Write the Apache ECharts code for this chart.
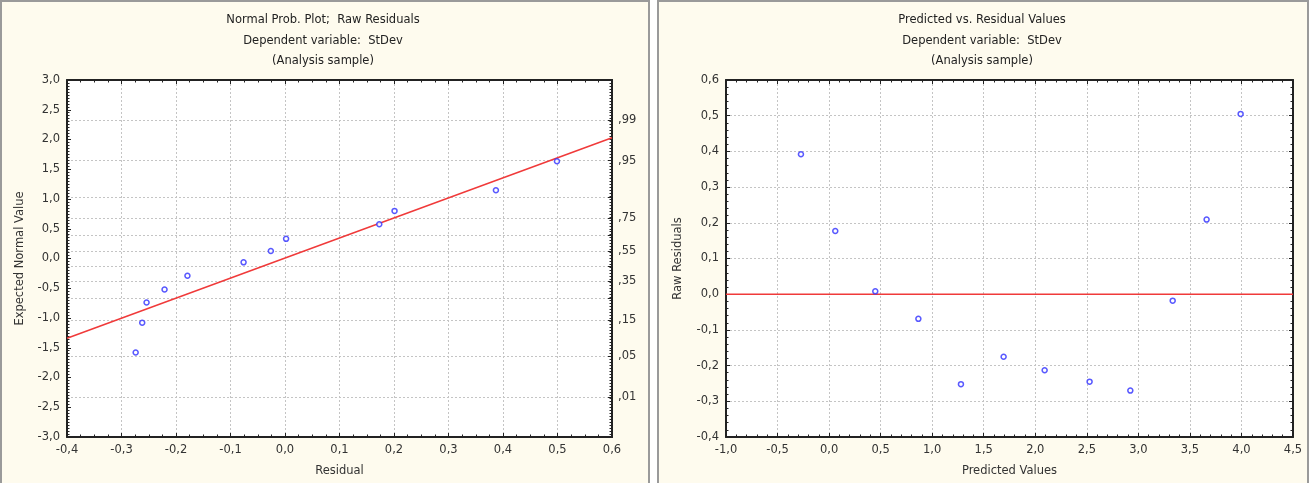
<!DOCTYPE html>
<html>
<head>
<meta charset="utf-8">
<script src="https://cdn.jsdelivr.net/npm/echarts@6/dist/echarts.min.js"></script>
<style>
  body { margin: 0; background: #fff; }
  #wrap { position: relative; width: 1315px; height: 483px; overflow: hidden; }
  .panel { position: absolute; top: 0; height: 500px; background: #fefbee; border: 2px solid #9a9a9a; box-sizing: border-box; }
  #main { position: absolute; left: 0; top: 0; width: 1315px; height: 483px; }
</style>
</head>
<body>
<div id="wrap">
  <div class="panel" style="left:0;width:650px"></div>
  <div class="panel" style="left:657px;width:652px"></div>
  <div id="main"></div>
</div>
<script>
// normal probability plot (left)
const normResidual = [-0.274, -0.262, -0.254, -0.221, -0.179, -0.076, -0.026, 0.002, 0.173, 0.201, 0.387, 0.499];
const normExpected = [-1.58, -1.08, -0.74, -0.52, -0.29, -0.065, 0.126, 0.33, 0.575, 0.80, 1.146, 1.634];
const fitX = [-0.4, 0.6];
const fitY = [-1.34, 2.03];

// probability scale on the right side (label + normal quantile)
const probLabels = [',01', ',05', ',15', ',35', ',55', ',75', ',95', ',99'];
const probZ = [-2.326, -1.645, -1.036, -0.385, 0.126, 0.674, 1.645, 2.326];
const probGridZ = [-2.326, -1.645, -1.036, -0.674, -0.385, -0.126, 0.126, 0.385, 0.674, 1.036, 1.645, 2.326];

// predicted vs residual (right)
const predicted = [-0.273, 0.060, 0.448, 0.866, 1.279, 1.693, 2.091, 2.527, 2.922, 3.333, 3.662, 3.992];
const rawResidual = [0.392, 0.177, 0.008, -0.069, -0.252, -0.175, -0.213, -0.245, -0.270, -0.018, 0.209, 0.505];
const zeroX = [-1.0, 4.5];
const zeroY = [0, 0];

const font = 'DejaVu Sans';
const fs = 11.5;
const fmt = v => (Math.abs(v) < 1e-9 ? 0 : v).toFixed(1).replace('.', ',');
const zip = (a, b) => a.map((v, i) => [v, b[i]]);

const axLine = { show: true, onZero: false, lineStyle: { color: '#222', width: 2 } };
const tick = { show: true, inside: true, length: 4, lineStyle: { color: '#222', width: 1 } };
const minor = n => ({ show: true, splitNumber: n, length: 2.5, lineStyle: { color: '#222', width: 1 } });
const grid = { show: true, lineStyle: { color: '#c4c4c4', type: [2, 2], width: 1 } };
const lbl = { color: '#333', fontSize: fs, fontFamily: font, formatter: fmt };
const nameStyle = { color: '#333', fontSize: fs, fontFamily: font };

function valAxis(o) {
  return Object.assign({
    type: 'value',
    axisLine: axLine,
    axisTick: tick,
    minorTick: minor(5),
    splitLine: { show: false },
    axisLabel: Object.assign({ margin: 7 }, lbl)
  }, o);
}
const hidden = { show: false };

let myChart = echarts.init(document.getElementById('main'));
myChart.setOption({
  animation: false,
  title: [
    {
      text: 'Normal Prob. Plot;  Raw Residuals\nDependent variable:  StDev\n(Analysis sample)',
      left: 323, top: 10, padding: 0, textAlign: 'center',
      textStyle: { fontSize: fs, fontWeight: 'normal', color: '#222', fontFamily: font, lineHeight: 20.5 }
    },
    {
      text: 'Predicted vs. Residual Values\nDependent variable:  StDev\n(Analysis sample)',
      left: 982, top: 10, padding: 0, textAlign: 'center',
      textStyle: { fontSize: fs, fontWeight: 'normal', color: '#222', fontFamily: font, lineHeight: 20.5 }
    }
  ],
  grid: [
    { left: 67, top: 80, width: 545, height: 357, show: true, backgroundColor: '#fff', borderWidth: 0 },
    { left: 726, top: 80, width: 567, height: 357, show: true, backgroundColor: '#fff', borderWidth: 0 }
  ],
  xAxis: [
    valAxis({ gridIndex: 0, min: -0.4, max: 0.6, interval: 0.1, minorTick: minor(4), splitLine: grid,
      name: 'Residual', nameLocation: 'middle', nameGap: 28, nameTextStyle: nameStyle }),
    valAxis({ gridIndex: 0, position: 'top', min: -0.4, max: 0.6, interval: 0.1, minorTick: minor(4), axisLabel: hidden }),
    valAxis({ gridIndex: 1, min: -1, max: 4.5, interval: 0.5, minorTick: minor(5), splitLine: grid,
      name: 'Predicted Values', nameLocation: 'middle', nameGap: 28, nameTextStyle: nameStyle }),
    valAxis({ gridIndex: 1, position: 'top', min: -1, max: 4.5, interval: 0.5, minorTick: minor(5), axisLabel: hidden })
  ],
  yAxis: [
    valAxis({ gridIndex: 0, min: -3, max: 3, interval: 0.5, minorTick: minor(10),
      name: 'Expected Normal Value', nameLocation: 'middle', nameGap: 41, nameTextStyle: nameStyle }),
    valAxis({ gridIndex: 0, position: 'right', min: -3, max: 3,
      axisTick: Object.assign({ customValues: probGridZ }, tick),
      minorTick: hidden,
      splitLine: grid,
      axisLabel: { customValues: probZ, margin: 6, color: '#333', fontSize: fs, fontFamily: font,
        formatter: v => { const i = probZ.findIndex(z => Math.abs(z - v) < 1e-6); return i >= 0 ? probLabels[i] : ''; } } }),
    valAxis({ gridIndex: 0, position: 'right', min: -3, max: 3, interval: 0.5, minorTick: minor(10),
      axisTick: Object.assign({}, tick, { length: 2.5 }), axisLabel: hidden }),
    valAxis({ gridIndex: 1, min: -0.4, max: 0.6, interval: 0.1, minorTick: minor(5), splitLine: grid,
      name: 'Raw Residuals', nameLocation: 'middle', nameGap: 42, nameTextStyle: nameStyle }),
    valAxis({ gridIndex: 1, position: 'right', min: -0.4, max: 0.6, interval: 0.1, minorTick: minor(5), axisLabel: hidden })
  ],
  series: [
    {
      type: 'line', xAxisIndex: 0, yAxisIndex: 0, data: zip(fitX, fitY),
      symbol: 'none', lineStyle: { color: '#f03a3a', width: 1.5 }, z: 3
    },
    {
      type: 'scatter', xAxisIndex: 0, yAxisIndex: 0, data: zip(normResidual, normExpected),
      symbol: 'circle', symbolSize: 5, itemStyle: { color: '#fff', borderColor: '#2f2fff', borderWidth: 1.5 }, z: 4
    },
    {
      type: 'line', xAxisIndex: 2, yAxisIndex: 3, data: zip(zeroX, zeroY),
      symbol: 'none', lineStyle: { color: '#f03a3a', width: 1.5 }, z: 3
    },
    {
      type: 'scatter', xAxisIndex: 2, yAxisIndex: 3, data: zip(predicted, rawResidual),
      symbol: 'circle', symbolSize: 5, itemStyle: { color: '#fff', borderColor: '#2f2fff', borderWidth: 1.5 }, z: 4
    }
  ]
});
</script>
</body>
</html>
